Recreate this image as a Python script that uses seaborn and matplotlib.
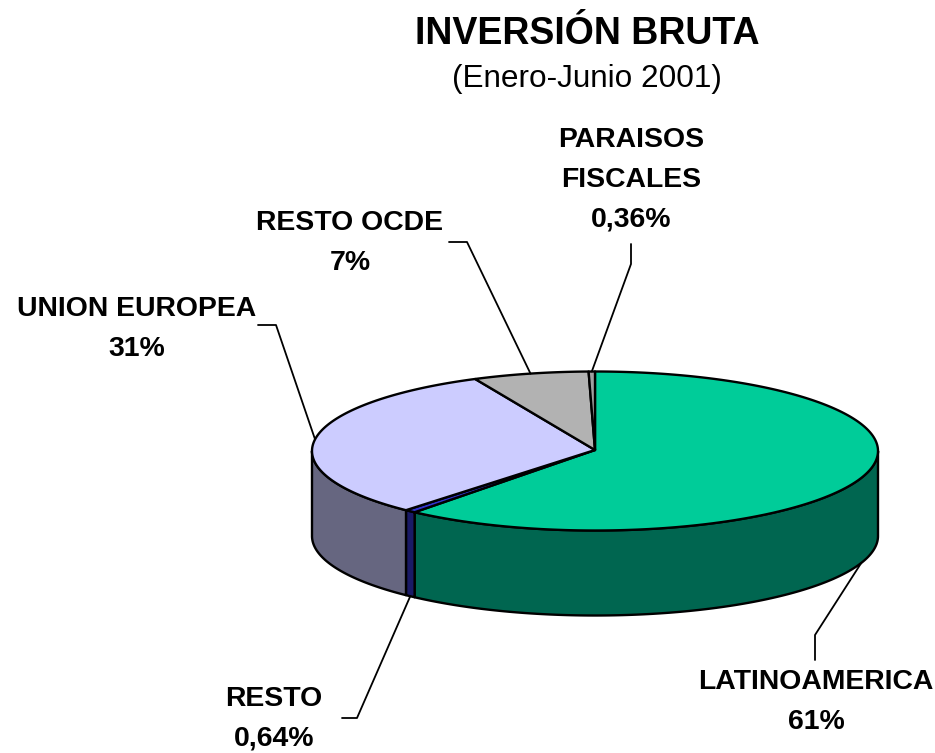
import numpy as np
import seaborn as sns
import matplotlib.pyplot as plt
from matplotlib.patches import Polygon

sns.set_theme(style='white')
plt.rcParams['font.family'] = ['Liberation Sans', 'DejaVu Sans']

# shares in %, clockwise from 12 o'clock
categories = ['LATINOAMERICA', 'RESTO', 'UNION EUROPEA', 'RESTO OCDE', 'PARAISOS FISCALES']
values = [61, 0.64, 31.4, 6.6, 0.36]
value_labels = ['61%', '0,64%', '31%', '7%', '0,36%']
top_colors = sns.color_palette(['#00CC99', '#3333CC', '#CCCCFF', '#B2B2B2', '#A0A0A0'])
side_colors = sns.color_palette(['#006650', '#1A1A66', '#666680', '#595959', '#505050'])

# pie geometry in pixels
cx, cy = 595, 451
rx, ry = 283, 79.5
depth = 85


def rim(t, drop=0):
    return np.column_stack([cx + rx * np.sin(t), cy - ry * np.cos(t) + drop])


fig = plt.figure(figsize=(9.35, 7.53), dpi=100)
ax = fig.add_axes([0, 0, 1, 1])
ax.set_xlim(0, 935)
ax.set_ylim(753, 0)
ax.axis('off')

edges = np.radians(np.concatenate([[0], np.cumsum(values)]) * 3.6)
mids = (edges[:-1] + edges[1:]) / 2

# side walls, only the front half shows
for a, b, col in zip(edges[:-1], edges[1:], side_colors):
    lo, hi = max(a, np.pi / 2), min(b, 3 * np.pi / 2)
    if lo >= hi:
        continue
    t = np.linspace(lo, hi, 150)
    pts = np.vstack([rim(t), rim(t[::-1], depth)])
    ax.add_patch(Polygon(pts, closed=True, fc=col, ec='black', lw=1.7, joinstyle='round'))

# top faces
for a, b, col in zip(edges[:-1], edges[1:], top_colors):
    t = np.linspace(a, b, max(int((b - a) * 80), 3))
    pts = np.vstack([[cx, cy - 1], rim(t)])
    ax.add_patch(Polygon(pts, closed=True, fc=col, ec='black', lw=1.7, joinstyle='round'))

ax.text(587, 34, 'INVERSIÓN BRUTA', ha='center', va='center', fontsize=27, fontweight='bold', color='black')
ax.text(587, 79, '(Enero-Junio 2001)', ha='center', va='center', fontsize=22.7, color='black')

# label text, text position and the elbow of each leader line
label_text = {
    'LATINOAMERICA': 'LATINOAMERICA',
    'RESTO': 'RESTO',
    'UNION EUROPEA': 'UNION EUROPEA',
    'RESTO OCDE': 'RESTO OCDE',
    'PARAISOS FISCALES': 'PARAISOS\nFISCALES',
}
text_pos = [(816, 702), (274, 719), (137, 329), (350, 243), (631, 180)]
leader_start = [(815, 660), (342, 718), (258, 325), (449, 242), (631, 244)]
leader_elbow = [(815, 635), (357, 718), (276, 325), (467, 242), (631, 264)]

for i, name in enumerate(categories):
    front = np.pi / 2 < mids[i] < 3 * np.pi / 2
    end = rim(np.array([mids[i]]), depth if front else 0)[0]
    line = np.array([leader_start[i], leader_elbow[i], end])
    ax.plot(line[:, 0], line[:, 1], color='black', lw=1.3, zorder=1 if front else 3)
    ax.text(text_pos[i][0], text_pos[i][1], label_text[name] + '\n' + value_labels[i],
            ha='center', va='center', fontsize=20.4, fontweight='bold', color='black',
            linespacing=1.68)

fig.savefig('out.png', dpi=100)
